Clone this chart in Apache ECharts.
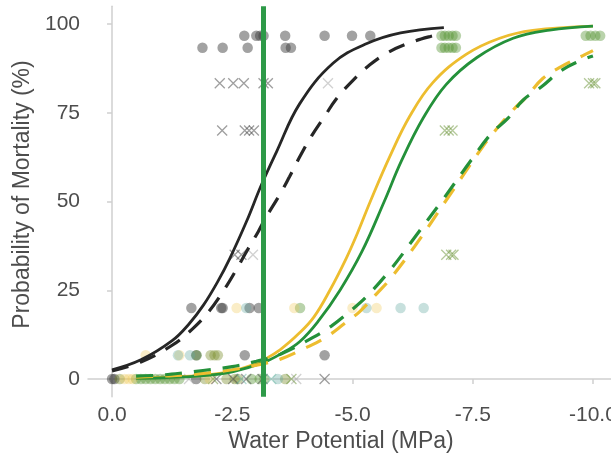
<!DOCTYPE html>
<html>
<head>
<meta charset="utf-8">
<script src="https://cdn.jsdelivr.net/npm/echarts@6/dist/echarts.min.js"></script>
<style>html,body{margin:0;padding:0;background:#fff;}#c{width:611px;height:471px;}</style>
</head>
<body>
<div id="c"></div>
<script>
// ---- Data (x = water potential in MPa, y = probability of mortality in %) ----
const xTicks = [0, -2.5, -5, -7.5, -10];
const yTicks = [0, 25, 50, 75, 100];
const vlineX = -3.15;

const blackSolid = [[0,2.6],[-0.6,5.4],[-1.25,10.8],[-1.6,15.5],[-1.9,20.8],[-2.2,27.5],[-2.45,34],[-2.8,44.5],[-3.1,54.5],[-3.42,64],[-3.9,77.5],[-4.6,89],[-5.3,94.5],[-6.0,97.5],[-6.9,99]];
const blackDashed = [[0,2.3],[-0.6,4.8],[-1.25,9.5],[-1.68,14.2],[-2.0,18.8],[-2.3,24.5],[-2.55,30],[-2.8,36],[-3.04,41.5],[-3.2,45.5],[-3.49,52],[-3.69,57],[-3.92,63],[-4.15,68.5],[-4.42,74],[-4.67,79],[-5.0,84],[-5.36,88.5],[-5.74,92],[-6.19,94.7],[-6.62,96.5],[-6.9,97.3]];
const yellowSolid = [[-0.5,0.2],[-1.5,0.7],[-2.0,1.2],[-2.5,2.2],[-2.93,4.0],[-3.14,5.3],[-3.5,8.3],[-3.9,13],[-4.2,17.5],[-4.53,25],[-4.87,34],[-5.1,41],[-5.37,50],[-5.77,62.5],[-6.19,74],[-6.67,83.5],[-7.37,91.5],[-8.06,96],[-8.75,98.2],[-10,99.4]];
const greenSolid = [[-0.5,0.15],[-1.0,0.3],[-1.5,0.6],[-2.03,1.1],[-2.5,2.0],[-3.14,4.6],[-3.5,7.0],[-3.9,10.5],[-4.3,16.5],[-4.74,25],[-5.2,36],[-5.66,50],[-6.02,61.5],[-6.47,73.5],[-6.95,83],[-7.58,90.5],[-8.34,96],[-9.1,98.3],[-10,99.4]];
const yellowDashed = [[-0.5,0.5],[-1.0,0.8],[-1.5,1.1],[-2.0,1.7],[-2.5,2.6],[-3.0,3.9],[-3.5,5.6],[-4.0,8.6],[-4.42,11.5],[-4.84,15.7],[-5.15,19],[-5.5,24],[-5.77,28],[-6.3,37.5],[-6.93,50],[-7.71,65.5],[-7.89,68.7],[-8.34,75.8],[-8.62,79.5],[-8.96,84.7],[-9.34,88],[-9.79,91.1],[-10,92.5]];
const greenDashed = [[-0.5,0.8],[-1.0,1.1],[-1.47,1.7],[-1.89,2.4],[-2.5,3.5],[-3.0,5.0],[-3.5,7.0],[-4.18,11.7],[-4.56,14.9],[-4.94,19],[-5.29,23.2],[-5.8,31],[-6.3,40],[-6.85,50],[-7.47,61.7],[-7.89,69.2],[-8.23,73.4],[-8.55,78.6],[-8.93,82.3],[-9.31,86.6],[-9.69,89.4],[-10,91]];

// observed points
const darkCircles = [[-2.75,96.7],[-3.0,96.7],[-3.08,96.7],[-3.15,96.7],[-3.6,96.7],[-4.42,96.7],[-4.99,96.7],[-5.37,96.7],
  [-1.88,93.3],[-2.3,93.3],[-2.82,93.3],[-3.61,93.3],[-3.72,93.3],
  [-1.65,20],[-2.27,20],[-2.3,20],[-2.86,20],[-3.05,20],
  [-2.76,6.7],[-4.42,6.7],[-1.75,6.7],
  [0,0],[-0.05,0],[-1.75,0]];
const greyCrosses = [[-2.24,83.3],[-2.52,83.3],[-2.74,83.3],[-3.15,83.3],[-3.24,83.3],
  [-2.29,70],[-2.76,70],[-2.85,70],[-2.95,70],
  [-2.55,35],[-2.69,35],
  [-2.17,0],[-2.52,0],[-2.79,0],[-3.13,0],[-4.42,0]];
const paleCrosses = [[-4.49,83.3],[-2.93,35],[-3.83,0],[-1.6,0]];
const greenCrosses = [[-6.92,70],[-7.0,70],[-7.08,70],[-6.95,35],[-7.05,35],[-7.1,35],[-9.92,83.3],[-10.0,83.3],[-10.05,83.3],[-2.1,0],[-3.73,0]];
const tealCrosses = [[-3.31,0],[-2.69,0]];
const greenCircles = [[-6.85,96.7],[-6.92,96.7],[-7.0,96.7],[-7.08,96.7],[-7.15,96.7],
  [-6.85,93.3],[-6.92,93.3],[-7.0,93.3],[-7.08,93.3],[-7.15,93.3],
  [-9.85,96.7],[-9.95,96.7],[-10.05,96.7],[-10.15,96.7],
  [-3.91,20],[-1.76,6.7],
  [-0.5,0],[-0.6,0],[-0.7,0],[-0.8,0],[-0.9,0],[-1.0,0],[-1.1,0],[-1.2,0],[-1.3,0],[-1.4,0],[-2.9,0],[-3.07,0],[-3.17,0]];
const oliveCircles = [[-2.05,6.7],[-2.13,6.7],[-2.2,6.7],[-0.16,0],[-1.93,0],[-2.38,0],[-2.55,0],[-2.62,0],[-3.6,0]];
const yellowCircles = [[-0.26,0],[-0.35,0],[-0.43,0],[-2.03,0],[-0.7,6.7],[-1.4,6.7],[-2.59,20],[-3.79,20],[-5.5,20],[-5.0,20]];
const tealCircles = [[-3.45,0],[-1.37,6.7],[-1.62,6.7],[-2.79,20],[-5.29,20],[-6.0,20],[-6.48,20]];

const BLACK = '#262626', YELLOW = '#EDBD2F', GREEN = '#24913A';
const CROSS = 'path://M0,0L10,10M10,0L0,10';
const FONT = 'Liberation Sans, Arial, sans-serif';

function pts(data, color) {
  return {type:'scatter', data, symbol:'circle', symbolSize:10.5, silent:true,
    itemStyle:{color, borderWidth:0}, z:1};
}
function crosses(data, color) {
  return {type:'scatter', data, symbol:CROSS, symbolSize:10, silent:true,
    itemStyle:{color:'none', borderColor:color, borderWidth:1.3}, z:1};
}
function curve(data, color, dashed) {
  return {type:'line', data, smooth:0.4, showSymbol:false, silent:true, z:3,
    lineStyle:{color, width: dashed ? 3.2 : 2.8, type: dashed ? [17, 12] : 'solid', cap:'butt'}};
}

const chart = echarts.init(document.getElementById('c'), null, {renderer:'canvas'});
const axisLabelStyle = {color:'#4d4d4d', fontSize:21, fontFamily:FONT};
chart.setOption({
  animation:false,
  backgroundColor:'#ffffff',
  grid:{left:88, top:6.25, width:529, height:390.5, containLabel:false, outerBoundsMode:'none'},
  xAxis:{
    type:'value', inverse:true, min:-10.5, max:0.5,
    name:'Water Potential (MPa)', nameLocation:'middle', nameGap:26,
    nameTextStyle:{color:'#4d4d4d', fontSize:23, fontFamily:FONT, padding:[0, 23, 0, 0]},
    axisLine:{show:true, lineStyle:{color:'#cfcfcf', width:1.5}},
    axisTick:{show:true, length:5, lineStyle:{color:'#cfcfcf', width:1.5}, customValues:xTicks},
    axisLabel:Object.assign({customValues:xTicks, margin:8, formatter:v => v.toFixed(1)}, axisLabelStyle),
    splitLine:{show:false}
  },
  yAxis:{
    type:'value', min:-5, max:105,
    name:'Probability of Mortality (%)', nameLocation:'middle', nameGap:50, nameRotate:90,
    nameTextStyle:{color:'#4d4d4d', fontSize:23, fontFamily:FONT, padding:[0, 0, 0, 14]},
    axisLine:{show:true, lineStyle:{color:'#cfcfcf', width:1.5}},
    axisTick:{show:true, length:5, lineStyle:{color:'#cfcfcf', width:1.5}, customValues:yTicks},
    axisLabel:Object.assign({customValues:yTicks, margin:8}, axisLabelStyle),
    splitLine:{show:false}
  },
  series:[
    pts(darkCircles, 'rgba(60,60,60,0.6)'),
    pts(greenCircles, 'rgba(80,145,45,0.5)'),
    pts(oliveCircles, 'rgba(120,140,40,0.5)'),
    pts(yellowCircles, 'rgba(240,200,80,0.4)'),
    pts(tealCircles, 'rgba(100,170,160,0.45)'),
    crosses(greyCrosses, 'rgba(70,70,70,0.65)'),
    crosses(paleCrosses, 'rgba(150,150,150,0.55)'),
    crosses(greenCrosses, 'rgba(110,150,60,0.65)'),
    crosses(tealCrosses, 'rgba(100,180,160,0.6)'),
    curve(blackSolid, BLACK, false),
    curve(blackDashed, BLACK, true),
    curve(yellowSolid, YELLOW, false),
    curve(greenSolid, GREEN, false),
    curve(yellowDashed, YELLOW, true),
    curve(greenDashed, GREEN, true),
    {type:'line', data:[], silent:true, z:5,
     markLine:{silent:true, symbol:['none','none'], label:{show:false},
       lineStyle:{color:'#2E9A48', width:5, type:'solid'},
       data:[{xAxis:vlineX}]}}
  ]
});
</script>
</body>
</html>
